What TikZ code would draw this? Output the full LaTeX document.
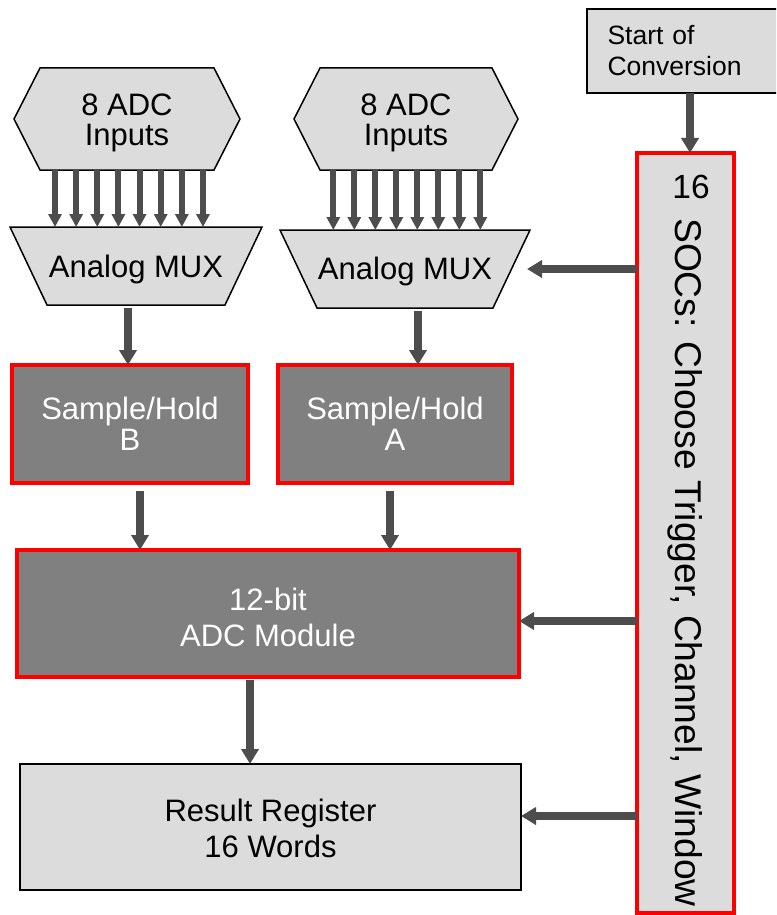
\documentclass[tikz,border=0pt]{standalone}
\usepackage{fontspec}
\setmainfont{Liberation Sans}
\usetikzlibrary{arrows.meta,backgrounds,calc}

\definecolor{boxgray}{RGB}{220,220,220}
\definecolor{blockgray}{RGB}{128,128,128}
\definecolor{arrowgray}{RGB}{77,77,77}
\definecolor{hotred}{RGB}{255,0,0}

% invisible strut that lowers a text block inside its box
\newcommand{\lowerby}[1]{\rule{0pt}{#1}}

\tikzset{
  frame/.style={inner sep=0pt, outer sep=0pt, align=center,
                font=\fontsize{31}{30.5}\selectfont},
  lightfill/.style={fill=boxgray, draw=black, line width=1.5pt},
  redblock/.style={frame, fill=blockgray, draw=hotred, line width=3.5pt,
                   text=white},
  bigarrow/.style={draw=arrowgray, line width=7.5pt,
                   -{Triangle[width=17pt,length=15pt]}},
  smallarrow/.style={draw=arrowgray, line width=6pt,
                     -{Triangle[width=13pt,length=13pt]}},
}

\begin{document}
\begin{tikzpicture}[x=1pt,y=-1pt]
\useasboundingbox (0,0) rectangle (776,915);
\clip (0,0) rectangle (776,915);

% ---- input groups and multiplexers (outlines on the background layer)
\node[frame, minimum width=226, minimum height=102] (inB) at (127,119) {\lowerby{29pt}8 ADC\\Inputs};
\node[frame, minimum width=224, minimum height=102] (inA) at (406,119) {\lowerby{29pt}8 ADC\\Inputs};
\node[frame, minimum width=252, minimum height=78] (muxB) at (136,266) {\lowerby{29pt}Analog MUX};
\node[frame, minimum width=250, minimum height=78] (muxA) at (405,269) {\lowerby{28pt}Analog MUX};

\begin{scope}[on background layer]
  \foreach \n in {inB,inA}
    \filldraw[lightfill] (\n.west) -- ([xshift=26pt]\n.north west)
      -- ([xshift=-26pt]\n.north east) -- (\n.east)
      -- ([xshift=-26pt]\n.south east) -- ([xshift=26pt]\n.south west) -- cycle;
  \foreach \n in {muxB,muxA}
    \filldraw[lightfill] (\n.north west) -- (\n.north east)
      -- ([xshift=-37pt]\n.south east) -- ([xshift=37pt]\n.south west) -- cycle;
\end{scope}

% ---- sample/hold stages, converter, result register
\node[redblock, minimum width=236, minimum height=118] (shB) at (130,424) {Sample/Hold\\B};
\node[redblock, minimum width=234, minimum height=118] (shA) at (395,424) {Sample/Hold\\A};
\node[redblock, minimum width=502, minimum height=127,
      font=\fontsize{31}{36.5}\selectfont] (adc) at (268,613.5) {\lowerby{30.5pt}12-bit\\ADC Module};
\node[frame, lightfill, minimum width=501, minimum height=126,
      font=\fontsize{31}{36}\selectfont] (res) at (270.5,827) {\lowerby{25pt}Result Register\\16 Words};

% ---- start of conversion and SOC column
\node[frame, lightfill, minimum width=203, minimum height=84, align=left,
      text width=162pt, font=\fontsize{26.5}{31}\selectfont] (start) at (688.5,51)
      {Start of\\Conversion};
\node[frame, fill=boxgray, draw=hotred, line width=3.5pt,
      minimum width=97, minimum height=760] (soc) at (685.5,533) {};
\node[inner sep=0pt, anchor=base, font=\fontsize{33.5}{33.5}\selectfont] (socNum)
      at (691,198) {16};
\node[inner sep=0pt, anchor=base west, rotate=-90,
      font=\fontsize{37.2}{37.2}\selectfont] (socTxt)
      at (675,218) {SOCs: Choose Trigger, Channel, Window};

% ---- eight input lines per multiplexer
\foreach \i in {0,...,7} {
  \path (inB.south) ++({-72+21.14*\i},0) coordinate (pB);
  \draw[smallarrow] (pB) -- (pB |- muxB.north);
  \path (inA.south) ++({-72.7+21*\i},0) coordinate (pA);
  \draw[smallarrow] (pA) -- (pA |- muxA.north);
}

% ---- data path
\draw[bigarrow, shorten <=3pt] ([xshift=-2pt]shB.north |- muxB.south) -- ([xshift=-2pt]shB.north);
\draw[bigarrow, shorten <=3pt] ([xshift=23pt]shA.north |- muxA.south) -- ([xshift=23pt]shA.north);
\draw[bigarrow, shorten <=8pt] ([xshift=10pt]shB.south) -- ([xshift=10pt]shB.south |- adc.north);
\draw[bigarrow, shorten <=8pt] ([xshift=-5pt]shA.south) -- ([xshift=-5pt]shA.south |- adc.north);
\draw[bigarrow, shorten <=3pt] ([xshift=-18pt]adc.south) -- ([xshift=-18pt]adc.south |- res.north);

% ---- control path
\draw[bigarrow] ([xshift=4.5pt]soc.north |- start.south) -- ([xshift=4.5pt]soc.north);
\draw[bigarrow] (soc.west |- muxA.east) -- ([xshift=-3pt]muxA.east);
\path ([yshift=-7.5pt]adc.east) coordinate (adcIn);
\draw[bigarrow] (soc.west |- adcIn) -- (adcIn);
\path ([yshift=11pt]res.east) coordinate (resIn);
\draw[bigarrow] (soc.west |- resIn) -- (resIn);
\end{tikzpicture}
\end{document}
